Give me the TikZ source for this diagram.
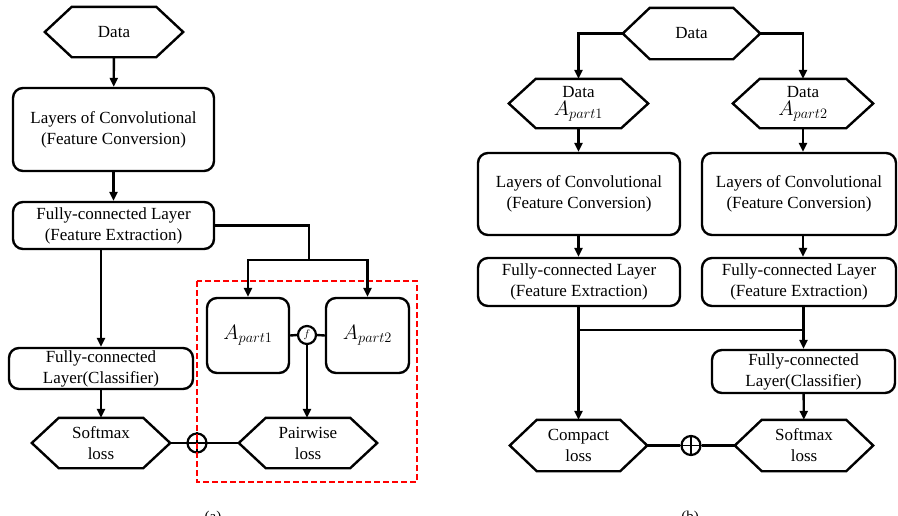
\documentclass[tikz,border=0pt]{standalone}
\usepackage{fontspec}
\setmainfont{Liberation Serif}
\usetikzlibrary{arrows.meta,calc}
\begin{document}
\begin{tikzpicture}[x=1pt,y=-1pt,
  line/.style={line width=2.4pt},
  arr/.style={line width=2.4pt, -{Triangle[length=9pt,width=8pt]}},
  rbox/.style={draw, line width=2.4pt, rounded corners=10pt, align=center, inner sep=0pt, font=\fontsize{17}{21}\selectfont},
  hexa/.style={align=center, inner sep=0pt, minimum width=138pt, minimum height=50pt, font=\fontsize{17}{21}\selectfont},
  opl/.style={draw, circle, line width=2.2pt, minimum size=19pt, inner sep=0pt},
  mth/.style={font=\fontsize{21}{24}\selectfont},
  captxt/.style={font=\fontsize{15}{18}\selectfont, anchor=base},
]
\useasboundingbox (0,0) rectangle (898,515);

% ---------- panel (a) ----------
\node[hexa] (dataA) at (114,32) {Data};
\node[rbox, minimum width=201pt, minimum height=83pt] (convA) at (113.5,129.5) {Layers of Convolutional\\(Feature Conversion)};
\node[rbox, minimum width=201pt, minimum height=47pt] (fceA) at (113.5,225.5) {Fully-connected Layer\\(Feature Extraction)};
\node[rbox, minimum width=184pt, minimum height=41pt] (clsA) at (101,368.5) {Fully-connected\\Layer(Classifier)};
\node[hexa] (smA) at (101,443) {Softmax\\loss};
\node[hexa] (pwA) at (308,443) {Pairwise\\loss};
\node[rbox, mth, minimum width=82pt, minimum height=75pt] (a1) at (248,335.5) {$A_{part1}$};
\node[rbox, mth, minimum width=83pt, minimum height=75pt] (a2) at (367.5,335.5) {$A_{part2}$};
\node[opl, minimum size=18pt, font=\fontsize{11}{12}\selectfont] (fcirc) at (307,335) {$f$};
\node[opl] (opA) at (197,443) {};
\draw[line width=1.2pt] (opA.north) -- (opA.south) (opA.west) -- (opA.east);
\draw[red, line width=2.2pt, dash pattern=on 6pt off 3pt] (197,281) rectangle (417,482);

\coordinate (splitA) at (309,260);
\draw[arr] (dataA) -- (convA);
\draw[arr] (convA) -- (fceA);
\draw[arr] (fceA.south -| clsA.north) -- (clsA.north);
\draw[arr] (clsA) -- (smA);
\draw[line] (fceA.east) -| (splitA);
\draw[arr] (splitA) -| (a1.north);
\draw[arr] (splitA) -| (a2.north);
\draw[line] (smA.east) -- (opA.west);
\draw[line] (opA.east) -- (pwA.west);
\draw[line] (a1.east) -- (fcirc.west);
\draw[line] (fcirc.east) -- (a2.west);
\draw[arr] (fcirc.south) -- (fcirc.south |- pwA.north);

\node[captxt] (capa) at (213,521) {(a)};

% ---------- panel (b) ----------
\node[hexa, minimum width=137pt, minimum height=51pt] (dataB) at (691.5,33.5) {Data};
\node[hexa, minimum width=139pt, minimum height=49pt] (dB1) at (578.5,103.5) {Data\\[-3pt]{\fontsize{20}{22}\selectfont$A_{part1}$}};
\node[hexa, minimum width=140pt, minimum height=49pt] (dB2) at (803,103.5) {Data\\[-3pt]{\fontsize{20}{22}\selectfont$A_{part2}$}};
\node[rbox, minimum width=202pt, minimum height=82pt] (convB1) at (579,194) {Layers of Convolutional\\(Feature Conversion)};
\node[rbox, minimum width=194pt, minimum height=82pt] (convB2) at (799,194) {Layers of Convolutional\\(Feature Conversion)};
\node[rbox, minimum width=202pt, minimum height=48pt] (fcB1) at (579,282) {Fully-connected Layer\\(Feature Extraction)};
\node[rbox, minimum width=194pt, minimum height=48pt] (fcB2) at (799,282) {Fully-connected Layer\\(Feature Extraction)};
\node[rbox, minimum width=183pt, minimum height=43pt] (clsB) at (803.5,371.5) {Fully-connected\\Layer(Classifier)};
\node[hexa, minimum width=137pt, minimum height=51pt] (cpB) at (578.5,445.5) {Compact\\loss};
\node[hexa, minimum height=51pt] (smB) at (804,445.5) {Softmax\\loss};
\node[opl] (opB) at (691,445.5) {};
\draw[line width=1.2pt] (opB.north) -- (opB.south) (opB.west) -- (opB.east);

\coordinate (hjL) at (578.5,330);
\coordinate (hjR) at (803.5,330);
\draw[arr] (dataB.west) -| (dB1.north);
\draw[arr] (dataB.east) -| (dB2.north);
\draw[arr] (dB1.south) -- (dB1.south |- convB1.north);
\draw[arr] (dB2.south) -- (dB2.south |- convB2.north);
\draw[arr] (convB1.south -| dB1.south) -- (fcB1.north -| dB1.south);
\draw[arr] (convB2.south -| dB2.south) -- (fcB2.north -| dB2.south);
\draw[arr] (fcB1.south -| cpB.north) -- (cpB.north);
\draw[arr] (fcB2.south -| clsB.north) -- (clsB.north);
\draw[line] (hjL) -- (hjR);
\draw[arr] (clsB) -- (smB);
\draw[line] (cpB.east) -- (opB.west);
\draw[line] (opB.east) -- (smB.west);

\node[captxt] (capb) at (690,521) {(b)};

% hexagon outlines
\foreach \n in {dataA,smA,pwA,dataB,dB1,dB2,cpB,smB}
  \draw[line, line join=miter] (\n.west) -- ([xshift=27pt]\n.north west) -- ([xshift=-27pt]\n.north east) -- (\n.east) -- ([xshift=-27pt]\n.south east) -- ([xshift=27pt]\n.south west) -- cycle;
\end{tikzpicture}
\end{document}
